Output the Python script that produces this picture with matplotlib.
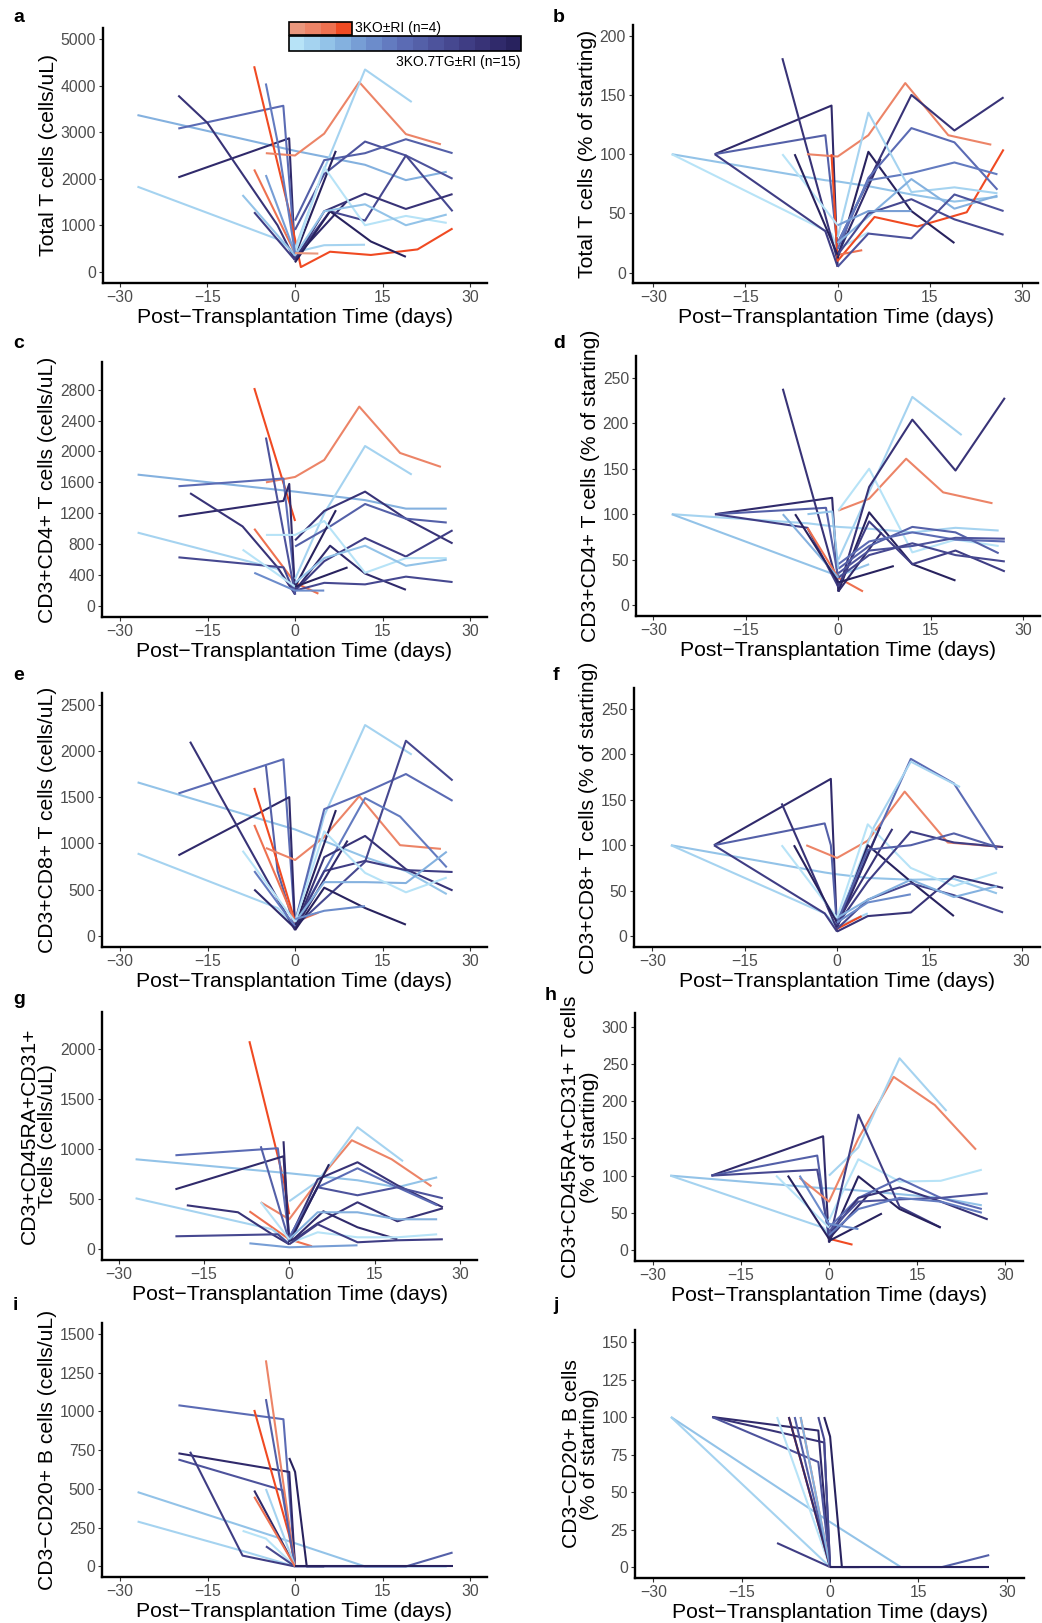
import matplotlib
matplotlib.use("Agg")
import matplotlib.pyplot as plt
from matplotlib.patches import Rectangle

plt.rcParams['font.family'] = ['Liberation Sans', 'DejaVu Sans']

# colours: 0-3 = 3KO±RI (orange), 4-18 = 3KO.7TG±RI (blue, light -> dark)
orange = ['#E9977D', '#EC8467', '#EE7150', '#F04A22']
blue = ['#B7E3F7', '#A5D3F0', '#93C3E8', '#84B1DF', '#779ED5', '#6C8CCB', '#637BC0',
        '#5B6BB4', '#5460A8', '#4D539C', '#464890', '#3F3D84', '#383377', '#302A6B', '#28225E']
palette = orange + blue

xlabel = 'Post\u2212Transplantation Time (days)'
xticks = [-30, -15, 0, 15, 30]

# ---- a: total T cells (cells/uL)
a_days = [[-27, 0, 12, 19, 26], [-27, -3, 0, 5, 12], [-20, -1, 0], [-20, -2, 0], [-20, -15, -9, -3, 0],
          [-7, -1, 1, 6, 13, 21, 27], [-5, 0, 5, 11, 19, 25], [-7, 0], [0, 5, 12, 20], [0, 5, 12, 19, 27],
          [0, 5, 12, 19, 27], [0, 7], [0, 9], [0, 6, 12, 19, 27], [0, 5, 12, 19, 27], [0, 6, 13, 19],
          [0, 5, 12, 19, 26], [-9, 0, 5, 12, 19, 26], [-5, 0], [-7, 0], [-5, -3, 0], [0, 4]]
a_vals = [[3370, 2600, 2300, 1970, 2150], [1830, 700, 420, 570, 580], [2030, 2870, 300], [3080, 3570, 400],
          [3790, 3200, 2100, 1000, 250], [4420, 1300, 100, 430, 360, 480, 930], [2550, 2500, 2970, 4080, 2960, 2740],
          [2200, 400], [500, 2200, 4350, 3650], [1100, 2400, 2550, 2850, 2550], [900, 2100, 2800, 2500, 2000],
          [350, 2600], [300, 1530], [300, 1300, 1100, 2500, 1300], [250, 1300, 1680, 1350, 1670],
          [200, 1300, 650, 320], [400, 2250, 1000, 1200, 1050], [1650, 350, 1300, 1450, 1000, 1230],
          [2080, 400], [1280, 250], [4050, 2800, 400], [400, 390]]
a_cols = [7, 5, 17, 11, 16, 3, 1, 2, 5, 12, 13, 18, 17, 14, 16, 18, 4, 6, 8, 15, 10, 0]

# ---- b: total T cells (% of starting)
b_days = [[-27, -2, 0, 5, 12, 19, 26], [-27, -1, 0, 5], [-20, -1, 0], [-20, -2, 0], [-20, -2, 0], [-9, 0],
          [-5, 0, 5, 11, 18, 25], [-1, 0, 6, 13, 21, 27], [0, 4], [0, 5, 12, 19], [0, 7], [0, 12, 19, 27],
          [0, 5, 12, 19, 26], [0, 5, 12, 19, 26], [0, 5, 12, 19, 26], [0, 12, 19, 26], [0, 5, 12, 19, 27],
          [0, 5, 12, 19, 27], [-9, 0], [-7, 0], [0, 5, 12]]
b_vals = [[100, 78, 77, 73, 66, 60, 64], [100, 33, 20, 34], [100, 141, 5], [100, 116, 20], [100, 35, 5], [181, 10],
          [100, 98, 116, 160, 116, 108], [100, 10, 47, 39, 51, 104], [15, 19], [12, 102, 52, 25], [15, 96],
          [25, 150, 120, 148], [20, 80, 122, 110, 70], [25, 78, 84, 93, 83], [30, 135, 68, 72, 67],
          [25, 79, 54, 65], [15, 50, 62, 45, 32], [5, 33, 29, 66, 52], [100, 40], [100, 15], [40, 52, 52]]
b_cols = [6, 4, 17, 12, 15, 16, 1, 3, 2, 18, 17, 16, 11, 10, 5, 7, 14, 13, 4, 18, 8]

# ---- c: CD3+CD4+ (cells/uL)
c_days = [[-7, 0], [-5, 0, 5, 11, 18, 25], [-7, 0, 4], [-27, 0, 12, 19, 26], [-27, -3, 0], [-20, -2, 0],
          [-20, -2, -1, 0], [-18, -9, -3, 0], [-20, -2, 0], [-5, 0], [0, 5, 12, 20], [0, 5, 12, 19, 27],
          [0, 6, 12, 19, 26], [0, 7], [0, 6, 12, 19], [0, 5, 12, 19, 27], [-5, 0, 5, 12, 19, 26],
          [0, 5, 12, 19, 26], [0, 5, 12, 19, 27], [-7, 0, 5], [-9, 0], [0, 9]]
c_vals = [[2820, 1100], [1600, 1670, 1890, 2580, 1980, 1800], [1000, 300, 160], [1700, 1480, 1370, 1260, 1260],
          [950, 480, 200], [1550, 1650, 250], [1160, 1360, 1580, 150], [1460, 1030, 500, 150], [630, 500, 150],
          [2180, 150], [350, 1200, 2070, 1700], [850, 1230, 1480, 1130, 810], [770, 1030, 1320, 1130, 1080],
          [250, 1240], [200, 780, 420, 210], [200, 580, 880, 640, 980], [920, 920, 1100, 430, 620, 620],
          [300, 620, 780, 520, 600], [200, 300, 280, 380, 310], [430, 200, 200], [730, 250], [250, 500]]
c_cols = [3, 1, 2, 7, 5, 11, 17, 16, 14, 13, 5, 16, 12, 18, 17, 15, 4, 6, 14, 9, 4, 18]

# ---- d: CD3+CD4+ (% of starting)
d_days = [[-27, -5, 0, 5, 12, 19, 26], [-27, 0, 5], [-20, -1, 0], [-20, -2, 0], [-20, -5, 0], [-9, 0],
          [0, 5, 11, 17, 25], [-5, 0, 4], [0, 5, 12, 19, 26], [0, 12, 20], [0, 5, 12, 19, 27], [0, 5, 12, 19],
          [0, 5, 12, 19, 27], [0, 7], [0, 9], [0, 5, 12, 19, 26], [0, 5, 12, 19, 27], [0, 5, 12, 19, 27],
          [0, 5, 12, 19, 27], [-9, 0], [-5, -1, 0], [-7, 0]]
d_vals = [[100, 90, 86, 84, 80, 85, 82], [100, 32, 45], [100, 118, 15], [100, 107, 30], [100, 85, 20], [238, 20],
          [104, 117, 161, 124, 112], [85, 30, 15], [104, 150, 58, 72, 65], [50, 229, 187],
          [15, 130, 204, 148, 228], [15, 102, 45, 27], [20, 92, 45, 60, 37], [15, 80], [25, 43],
          [40, 65, 86, 80, 57], [45, 70, 80, 72, 70], [35, 60, 65, 74, 73], [30, 55, 68, 55, 48],
          [100, 30], [100, 103, 40], [100, 25]]
d_cols = [5, 6, 17, 12, 15, 16, 1, 2, 4, 5, 16, 18, 15, 17, 18, 12, 11, 13, 14, 7, 6, 18]

# ---- e: CD3+CD8+ (cells/uL)
e_days = [[-27, 0, 12, 19, 26], [-27, -3, 0], [-20, -2, 0], [-20, -1, 0], [-18, 0], [-5, -3, 0],
          [-7, -4, 0], [-5, 0, 5, 11, 18, 25], [-7, 0, 4], [0, 5, 12, 20], [0, 5, 12, 19, 27], [0, 12, 19, 27],
          [0, 5, 12, 18, 26], [0, 5, 12, 19, 27], [0, 5, 12, 19, 27], [0, 7], [0, 9], [0, 5, 12, 19],
          [0, 5, 12, 19, 26], [0, 5, 12, 19, 26], [0, 5, 12], [-9, 0], [-7, 0], [-7, 0]]
e_vals = [[1660, 1150, 850, 700, 450], [890, 300, 100], [1540, 1910, 100], [870, 1500, 80], [2100, 60],
          [1840, 700, 80], [1600, 1000, 150], [950, 820, 1070, 1510, 980, 940], [1200, 150, 250],
          [150, 1300, 2280, 1960], [150, 1370, 1550, 1750, 1460], [100, 800, 2110, 1680],
          [120, 700, 1490, 1290, 740], [80, 850, 1080, 720, 490], [100, 700, 810, 710, 690], [100, 1360],
          [80, 1030], [60, 520, 300, 120], [150, 580, 580, 570, 910], [150, 1130, 680, 470, 630],
          [180, 270, 320], [920, 150], [700, 100], [500, 80]]
e_cols = [6, 5, 11, 17, 16, 12, 3, 1, 2, 5, 11, 14, 10, 16, 15, 18, 17, 18, 7, 4, 9, 4, 10, 17]

# ---- f: CD3+CD8+ (% of starting)
f_days = [[-27, -2, 0, 5, 12, 19, 26], [-27, -2, 0, 5], [-20, -1, 0], [-20, -2, -1, 0], [-20, -2, 0], [-9, 0],
          [-5, 0, 5, 11, 18, 27], [0, 4], [0, 5, 12, 19, 26], [0, 6, 12, 20], [0, 5, 12, 19, 26], [0, 5, 12, 19],
          [0, 7], [0, 9], [0, 5, 12, 19, 27], [0, 5, 12, 19, 27], [0, 5, 12, 19, 27], [0, 5, 12, 19, 26],
          [0, 5, 12, 19, 26], [-9, 0], [-7, 0], [0, 5, 12]]
f_vals = [[100, 70, 68, 64, 62, 63, 47], [100, 25, 10, 25], [100, 173, 5], [100, 124, 100, 10], [100, 25, 5],
          [146, 8], [100, 86, 105, 159, 103, 98], [8, 22], [10, 90, 195, 168, 95], [15, 120, 192, 164],
          [20, 123, 75, 55, 70], [10, 100, 60, 22], [10, 120], [15, 118], [12, 60, 115, 103, 98],
          [8, 40, 58, 45, 26], [5, 22, 26, 66, 53], [15, 95, 100, 113, 98], [20, 40, 62, 43, 55],
          [100, 20], [100, 15], [15, 37, 46]]
f_cols = [6, 5, 17, 12, 15, 16, 1, 3, 11, 5, 4, 18, 17, 16, 15, 14, 16, 12, 7, 4, 18, 9]

# ---- g: CD3+CD45RA+CD31+ (cells/uL)
g_days = [[-7, -1, 0], [-5, 0, 5, 11, 18, 25], [-7, 0, 4], [-27, 0, 12, 19, 26], [-27, -3, 0], [-20, -2, 0],
          [-20, -1, 0], [-18, -9, -3, 0], [-20, -2, 0], [-1, 0], [-5, 0], [0, 5, 12, 20], [0, 5, 12, 19, 27],
          [0, 5, 12, 19, 26], [0, 5, 12, 19, 27], [0, 7], [0, 5, 12, 19, 27], [0, 6, 12, 19],
          [0, 5, 12, 19, 26], [0, 5, 12, 19, 26], [0, 5, 12, 19, 27], [-7, 0, 12], [-5, 0]]
g_vals = [[2080, 700, 350], [470, 300, 680, 1090, 900, 630], [380, 100, 30], [900, 760, 690, 620, 720],
          [510, 200, 60], [940, 1010, 100], [600, 930, 80], [440, 370, 150, 50], [130, 150, 50], [1080, 50],
          [1030, 80], [480, 680, 1220, 880], [100, 700, 870, 640, 420], [120, 620, 810, 620, 440],
          [80, 620, 540, 620, 510], [60, 850], [60, 260, 470, 280, 410], [60, 380, 220, 100],
          [100, 370, 370, 300, 300], [60, 170, 120, 120, 150], [50, 250, 70, 90, 100], [60, 20, 40], [470, 100]]
g_cols = [3, 1, 2, 6, 5, 11, 17, 16, 14, 17, 12, 5, 16, 11, 13, 18, 16, 17, 7, 4, 15, 8, 4]

# ---- h: CD3+CD45RA+CD31+ (% of starting)
h_days = [[-27, -1, 0, 5, 12, 19, 26], [-27, -1, 0], [-20, -1, 0], [-20, -2, 0], [-20, -2, 0],
          [-5, 0, 5, 11, 18, 25], [0, 4], [0, 5, 12, 20], [0, 5, 12, 19, 26], [0, 5, 12, 19], [0, 5, 12, 19],
          [0, 7], [0, 9], [0, 5, 12, 19, 26], [0, 5, 12, 19, 27], [0, 5, 12, 19, 27], [0, 5, 12, 19, 26],
          [-9, 0], [-7, 0], [-5, 0, 5]]
h_vals = [[100, 83, 83, 80, 75, 70, 60], [100, 30, 20], [100, 153, 10], [100, 127, 15], [100, 108, 20],
          [97, 65, 150, 233, 195, 135], [15, 7], [100, 138, 258, 187], [40, 122, 92, 93, 108],
          [10, 182, 58, 30], [10, 99, 55, 30], [15, 77], [12, 49], [30, 70, 96, 70, 55], [20, 70, 84, 65, 41],
          [25, 65, 68, 70, 76], [20, 55, 70, 65, 50], [100, 30], [100, 15], [100, 35, 28]]
h_cols = [6, 5, 17, 12, 14, 1, 3, 5, 4, 15, 18, 17, 18, 11, 16, 13, 10, 4, 18, 9]

# ---- i: CD3-CD20+ B cells (cells/uL)
i_days = [[-27, 0, 12, 19, 26], [-27, -9, 0], [-20, -2, 0], [-20, -1, 0], [-20, -2, 0], [-18, -9, 0], [-5, 0],
          [-7, -1, 0], [-5, 0], [-1, 0, 2, 5], [-7, 0], [-5, 0], [-9, -5, 0], [-5, 0], [-7, 0],
          [0, 5, 12, 19, 27], [0, 5, 12, 19, 27]]
i_vals = [[480, 150, 0, 0, 0], [290, 100, 0], [1040, 950, 0], [730, 610, 0], [690, 490, 0], [740, 70, 0],
          [1330, 0], [1010, 200, 0], [1080, 0], [700, 610, 0, 0], [490, 0], [500, 0], [230, 180, 0], [130, 0],
          [450, 0], [0, 0, 0, 0, 90], [0, 0, 0, 0, 0]]
i_cols = [6, 5, 11, 17, 13, 15, 1, 3, 12, 18, 17, 5, 4, 14, 2, 12, 18]

# ---- j: CD3-CD20+ B cells (% of starting)
j_days = [[-27, 0, 12, 19, 26], [-27, 0], [-20, -2, 0], [-20, -1, 0], [-20, -2, 0], [-9, 0], [-9, 0], [-7, 0],
          [-5, 0], [-6, 0], [-7, 0], [-5, 0], [-1, 0, 2, 5], [-2, -1, 0], [0, 5, 12, 19, 27], [0, 5, 12, 19, 27]]
j_vals = [[100, 30, 0, 0, 0], [100, 0], [100, 91, 0], [100, 83, 0], [100, 70, 0], [16, 0], [100, 0], [100, 0],
          [100, 0], [100, 0], [100, 0], [100, 0], [100, 87, 0, 0], [100, 85, 0], [0, 0, 0, 0, 8], [0, 0, 0, 0, 0]]
j_cols = [6, 5, 17, 16, 13, 15, 4, 3, 1, 12, 17, 7, 18, 14, 12, 18]

W, H = 1042, 1623
fig = plt.figure(figsize=(W / 100, H / 100), dpi=100)


def px_axes(l, t, r, b):
    return fig.add_axes([l / W, 1 - b / H, (r - l) / W, (b - t) / H])


panels = [
    ('a', (103, 28, 487, 283), a_days, a_vals, a_cols, (-32.9, 32.9), (-243, 5243), range(0, 5001, 1000),
     'Total T cells (cells/uL)', (13, 17)),
    ('b', (633, 25, 1038, 283), b_days, b_vals, b_cols, (-33.3, 32.6), (-8.7, 209), range(0, 201, 50),
     'Total T cells (% of starting)', (553, 17)),
    ('c', (102, 362, 487, 617), c_days, c_vals, c_cols, (-33.1, 32.9), (-142, 3157), range(0, 2801, 400),
     'CD3+CD4+ T cells (cells/uL)', (13, 343)),
    ('d', (636, 356, 1040, 616), d_days, d_vals, d_cols, (-32.8, 32.7), (-12, 274), range(0, 251, 50),
     'CD3+CD4+ T cells (% of starting)', (553, 343)),
    ('e', (102, 693, 487, 947), e_days, e_vals, e_cols, (-33.1, 32.9), (-122, 2627), range(0, 2501, 500),
     'CD3+CD8+ T cells (cells/uL)', (13, 676)),
    ('f', (634, 688, 1040, 947), f_days, f_vals, f_cols, (-33.0, 33.0), (-12, 273), range(0, 251, 50),
     'CD3+CD8+ T cells (% of starting)', (553, 676)),
    ('g', (102, 1012, 477, 1260), g_days, g_vals, g_cols, (-32.9, 33.0), (-107, 2372), range(0, 2001, 500),
     'CD3+CD45RA+CD31+\nTcells (cells/uL)', (13, 1000)),
    ('h', (635, 1013, 1023, 1261), h_days, h_vals, h_cols, (-33.0, 33.0), (-15, 319), range(0, 301, 50),
     'CD3+CD45RA+CD31+ T cells\n(% of starting)', (545, 996)),
    ('i', (102, 1323, 487, 1577), i_days, i_vals, i_cols, (-33.1, 32.9), (-68, 1571), range(0, 1501, 250),
     'CD3\u2212CD20+ B cells (cells/uL)', (13, 1305)),
    ('j', (635, 1330, 1024, 1578), j_days, j_vals, j_cols, (-33.1, 32.9), (-7.3, 158), range(0, 151, 25),
     'CD3\u2212CD20+ B cells\n(% of starting)', (553, 1305)),
]

for tag, box, days, vals, cols, xlim, ylim, yticks, ylab, lab_pos in panels:
    ax = px_axes(*box)
    for xs, ys, c in zip(days, vals, cols):
        ax.plot(xs, ys, color=palette[c], lw=1.5, solid_capstyle='butt')
    ax.set_xlim(*xlim)
    ax.set_ylim(*ylim)
    ax.set_xticks(xticks)
    ax.set_yticks(list(yticks))
    for s in ['top', 'right']:
        ax.spines[s].set_visible(False)
    for s in ['left', 'bottom']:
        ax.spines[s].set_linewidth(1.7)
        ax.spines[s].set_color('black')
    ax.tick_params(length=3, width=0.8, color='#333333', labelcolor='#4D4D4D', labelsize=11.3, pad=2)
    ax.set_xlabel(xlabel, fontsize=15.2, labelpad=2)
    ax.set_ylabel(ylab, fontsize=15.2, labelpad=2, linespacing=0.95)
    fig.text(lab_pos[0] / W, 1 - lab_pos[1] / H, tag, fontsize=14, fontweight='bold', ha='left', va='center')

# legend (colour strips)
lg = px_axes(285, 18, 525, 72)
lg.set_xlim(285, 525)
lg.set_ylim(72, 18)
lg.axis('off')
ow = (352 - 289) / 4
for k, c in enumerate(orange):
    lg.add_patch(Rectangle((289 + k * ow, 22), ow, 13, facecolor=c, edgecolor='none'))
lg.add_patch(Rectangle((289, 22), 63, 13, facecolor='none', edgecolor='black', lw=1.2))
bw = (521 - 289) / 15
for k, c in enumerate(blue):
    lg.add_patch(Rectangle((289 + k * bw, 36), bw, 15, facecolor=c, edgecolor='none'))
lg.add_patch(Rectangle((289, 36), 232, 15, facecolor='none', edgecolor='black', lw=1.2))
lg.text(355, 28, '3KO\u00b1RI (n=4)', fontsize=10, va='center', ha='left')
lg.text(521, 62, '3KO.7TG\u00b1RI (n=15)', fontsize=10, va='center', ha='right')

fig.savefig('out.png', dpi=100)
